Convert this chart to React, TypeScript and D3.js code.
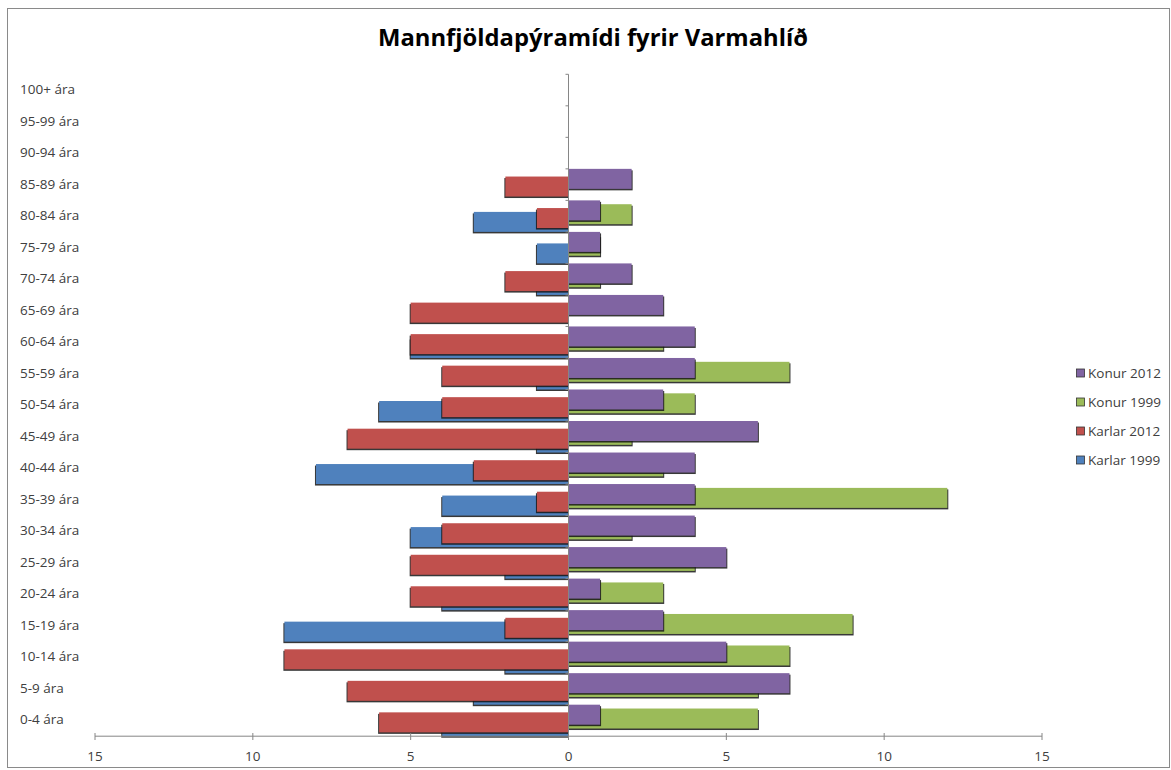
import React from "react";
import * as d3 from "d3";

const categories = [
  "0-4 ára", "5-9 ára", "10-14 ára", "15-19 ára", "20-24 ára", "25-29 ára", "30-34 ára",
  "35-39 ára", "40-44 ára", "45-49 ára", "50-54 ára", "55-59 ára", "60-64 ára", "65-69 ára",
  "70-74 ára", "75-79 ára", "80-84 ára", "85-89 ára", "90-94 ára", "95-99 ára", "100+ ára",
];
const karlar1999 = [-4, -3, -2, -9, -4, -2, -5, -4, -8, -1, -6, -1, -5, 0, -1, -1, -3, 0, 0, 0, 0];
const karlar2012 = [-6, -7, -9, -2, -5, -5, -4, -1, -3, -7, -4, -4, -5, -5, -2, 0, -1, -2, 0, 0, 0];
const konur1999 = [6, 6, 7, 9, 3, 4, 2, 12, 3, 2, 4, 7, 3, 0, 1, 1, 2, 0, 0, 0, 0];
const konur2012 = [1, 7, 5, 3, 1, 5, 4, 4, 4, 6, 3, 4, 4, 3, 2, 1, 1, 2, 0, 0, 0];
const seriesNames = ["Karlar 1999", "Karlar 2012", "Konur 1999", "Konur 2012"];
const seriesColors = ["#4F81BD", "#C0504D", "#9BBB59", "#8064A2"];
const tickValues = [-15, -10, -5, 0, 5, 10, 15];
const tickLabels = ["15", "10", "5", "0", "5", "10", "15"];
const title = "Mannfjöldapýramídi fyrir Varmahlíð";

const W = 1171;
const H = 770;
const FONT = "'Open Sans', 'Noto Sans', sans-serif";

export default function App() {
  const seriesData = [karlar1999, karlar2012, konur1999, konur2012];
  const x = d3.scaleLinear().domain([-15, 15]).range([95, 1042]);
  const y = d3
    .scaleBand<string>()
    .domain([...categories].reverse())
    .range([74.3, 736.2])
    .padding(0);
  const bw = y.bandwidth();
  const h = 20;
  const step = (bw - h) / 3;
  const x0 = x(0);

  const bars: React.ReactNode[] = [];
  seriesData.forEach((vals, si) => {
    vals.forEach((v, ci) => {
      if (v === 0) return;
      const cat = categories[ci];
      const yy = (y(cat) as number) + bw - h - si * step;
      const xa = Math.min(x(v), x0);
      const xb = Math.max(x(v), x0);
      const w = xb - xa;
      const sx = v < 0 ? xa - 1 : xa;
      bars.push(
        <g key={`${si}-${ci}`}>
          <rect x={sx} y={yy + 1.5} width={w + 1} height={h} fill="#151515" opacity={0.85} />
          <rect x={xa} y={yy} width={w} height={h} fill={seriesColors[si]} />
        </g>
      );
    });
  });

  const legendOrder = [3, 2, 1, 0];

  return (
    <div style={{ position: "absolute", left: 0, top: 0, width: W, height: H, overflow: "hidden" }}>
      <svg width={W} height={H} style={{ display: "block", background: "#fff" }}>
        <rect x={7.5} y={8.5} width={1162} height={759} fill="#fff" stroke="#8a8a8a" strokeWidth={1} />
        <text
          x={593}
          y={46}
          textAnchor="middle"
          fontFamily={FONT}
          fontWeight="bold"
          fontSize={23}
          textLength={430}
          lengthAdjust="spacingAndGlyphs"
          fill="#000"
        >
          {title}
        </text>

        {bars}

        {/* vertical category axis */}
        <line x1={x0} x2={x0} y1={74.3} y2={736.2} stroke="#868686" strokeWidth={1} />
        {categories.map((c) => (
          <line
            key={"t" + c}
            x1={x0 - 3}
            x2={x0}
            y1={(y(c) as number)}
            y2={(y(c) as number)}
            stroke="#868686"
          />
        ))}
        {categories.map((c) => (
          <text
            key={"l" + c}
            x={20}
            y={(y(c) as number) + bw / 2 - 1}
            dominantBaseline="central"
            fontFamily={FONT}
            fontSize={13.5}
            fill="#404040"
          >
            {c}
          </text>
        ))}

        {/* horizontal value axis */}
        <line x1={x(-15)} x2={x(15)} y1={736.2} y2={736.2} stroke="#868686" strokeWidth={1} />
        {tickValues.map((t, i) => (
          <g key={"xt" + i}>
            <line x1={x(t)} x2={x(t)} y1={733} y2={740} stroke="#868686" />
            <text
              x={x(t)}
              y={756}
              textAnchor="middle"
              dominantBaseline="central"
              fontFamily={FONT}
              fontSize={13.5}
              fill="#404040"
            >
              {tickLabels[i]}
            </text>
          </g>
        ))}

        {/* legend */}
        {legendOrder.map((si, i) => {
          const ly = 373 + i * 29;
          return (
            <g key={"lg" + si}>
              <rect x={1076.5} y={ly - 4} width={8} height={8} fill={seriesColors[si]} stroke="#333" strokeWidth={0.8} />
              <text
                x={1088}
                y={ly}
                dominantBaseline="central"
                fontFamily={FONT}
                fontSize={13.5}
                fill="#404040"
              >
                {seriesNames[si]}
              </text>
            </g>
          );
        })}
      </svg>
    </div>
  );
}
